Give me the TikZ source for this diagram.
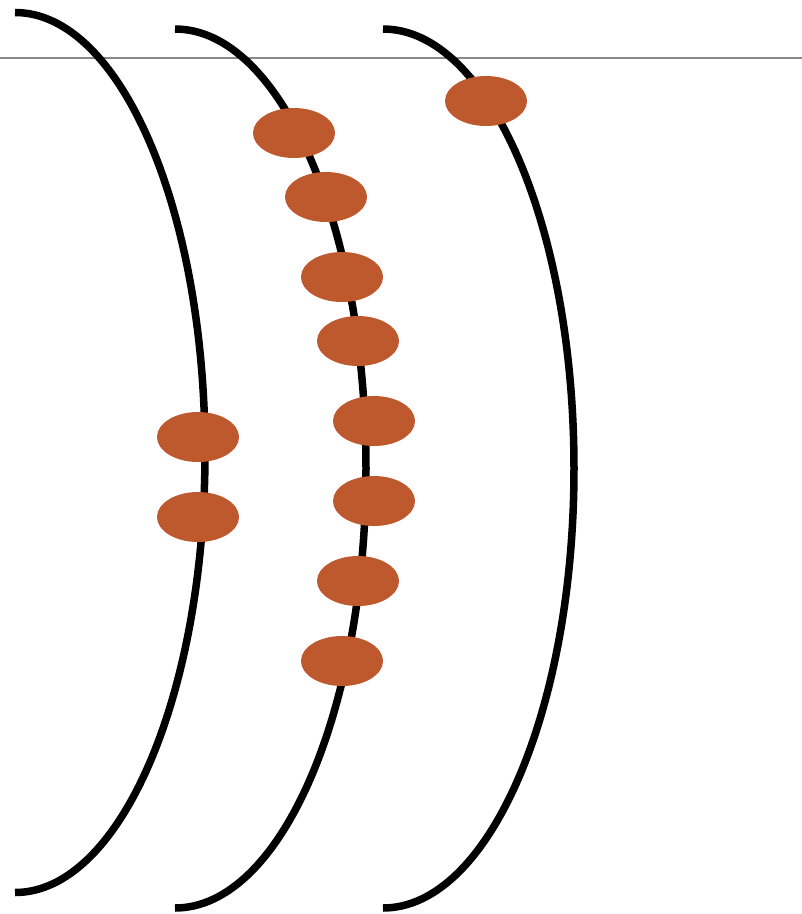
\documentclass[tikz,border=0pt]{standalone}
\usetikzlibrary{shapes.geometric}
\definecolor{dot}{RGB}{190,89,46}
\definecolor{rule}{RGB}{136,136,136}
\tikzset{
  arcline/.style={line width=7.5pt, line cap=butt},
  blob/.style={ellipse, fill=dot, draw=none, inner sep=0pt, minimum width=82pt, minimum height=50pt},
}
\begin{document}
\begin{tikzpicture}[x=1pt,y=-1pt]
\useasboundingbox (0,0) rectangle (802,914);
\fill[white] (0,0) rectangle (802,914);
\draw[rule, line width=2.2pt] (0,58) -- (802,58);
\draw[arcline] (15,12.5) arc[start angle=-90, end angle=90, x radius=190, y radius=440];
\draw[arcline] (175,29) arc[start angle=-90, end angle=90, x radius=191, y radius=439.5];
\draw[arcline] (383,29) arc[start angle=-90, end angle=90, x radius=191, y radius=439.5];
\node[blob] (e1) at (294,133) {};
\node[blob] (e2) at (326,197) {};
\node[blob] (e3) at (342,277) {};
\node[blob] (e4) at (358,341) {};
\node[blob] (e5) at (374,421) {};
\node[blob] (e6) at (374,501) {};
\node[blob] (e7) at (358,581) {};
\node[blob] (e8) at (342,661) {};
\node[blob] (e9) at (198,437) {};
\node[blob] (e10) at (198,517) {};
\node[blob] (e11) at (486,101) {};
\end{tikzpicture}
\end{document}
